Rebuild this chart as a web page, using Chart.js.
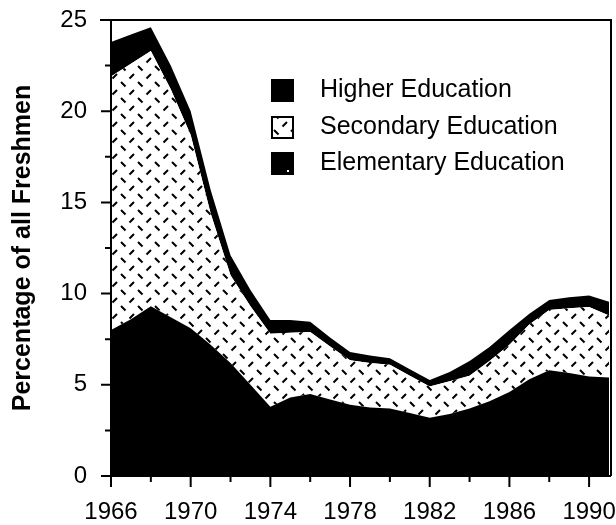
<!DOCTYPE html>
<html>
<head>
<meta charset="utf-8">
<script src="https://cdn.jsdelivr.net/npm/chart.js@4.4.1/dist/chart.umd.min.js"></script>
<style>
html, body { margin: 0; padding: 0; background: #fff; }
</style>
</head>
<body>
<canvas id="chart" width="616" height="525"></canvas>
<script>
// data (percent of all freshmen)
var years = [1966, 1967, 1968, 1969, 1970, 1971, 1972, 1973, 1974, 1975, 1976, 1977, 1978,
             1979, 1980, 1981, 1982, 1983, 1984, 1985, 1986, 1987, 1988, 1989, 1990, 1991];
var elementary = [8.0, 8.6, 9.3, 8.7, 8.1, 7.2, 6.2, 5.0, 3.8, 4.3, 4.5, 4.2, 3.9,
                  3.75, 3.7, 3.45, 3.2, 3.4, 3.7, 4.1, 4.6, 5.3, 5.8, 5.65, 5.45, 5.4];
var secondary = [13.9, 14.0, 14.0, 12.5, 10.6, 7.2, 4.8, 4.3, 4.0, 3.55, 3.4, 2.9, 2.45,
                 2.45, 2.4, 2.05, 1.7, 1.8, 1.8, 2.2, 2.6, 3.0, 3.3, 3.55, 3.82, 3.4];
var higher = [1.9, 1.6, 1.3, 1.3, 1.3, 1.3, 1.1, 0.9, 0.75, 0.7, 0.55, 0.5, 0.45,
              0.4, 0.35, 0.35, 0.36, 0.5, 0.8, 0.77, 0.8, 0.6, 0.55, 0.6, 0.63, 0.75];

var xTickYears = [1966, 1970, 1974, 1978, 1982, 1986, 1990];
var xMinorYears = [1968, 1972, 1976, 1980, 1984, 1988];
var yTicks = [0, 5, 10, 15, 20, 25];
var yMinorTicks = [2.5, 7.5, 12.5, 17.5, 22.5];

var FONT = "'Liberation Sans', Arial, Helvetica, sans-serif";

function points(vals) {
    return years.map(function(yr, i) { return {x: yr, y: vals[i]}; });
}

// dashed diamond-plate hatch for the secondary band
function makeHatch() {
    var c = document.createElement('canvas');
    c.width = 17; c.height = 16;
    var g = c.getContext('2d');
    g.fillStyle = '#fff';
    g.fillRect(0, 0, 17, 16);
    g.strokeStyle = '#000';
    g.lineWidth = 2;
    g.beginPath();
    g.moveTo(2, 2); g.lineTo(6.5, 6.5);
    g.moveTo(10.5, 14.5); g.lineTo(15, 10);
    g.stroke();
    return g.createPattern(c, 'repeat');
}
var hatch = makeHatch();

var frame = {
    id: 'frame',
    afterDatasetsDraw: function(chart) {
        var ctx = chart.ctx, a = chart.chartArea;
        var xs = chart.scales.x, ys = chart.scales.y;
        ctx.save();
        ctx.strokeStyle = '#000';
        ctx.lineWidth = 2;
        ctx.beginPath();
        ctx.moveTo(a.left, a.bottom); ctx.lineTo(a.left, a.top);
        ctx.moveTo(a.left - 11, a.top); ctx.lineTo(a.right, a.top);
        ctx.lineTo(a.right, a.bottom);
        ctx.moveTo(a.left, a.bottom); ctx.lineTo(a.right, a.bottom);
        yTicks.forEach(function(v) {
            var p = ys.getPixelForValue(v);
            ctx.moveTo(a.left - 10, p); ctx.lineTo(a.left, p);
        });
        yMinorTicks.forEach(function(v) {
            var p = ys.getPixelForValue(v);
            ctx.moveTo(a.left - 6, p); ctx.lineTo(a.left, p);
        });
        xTickYears.forEach(function(v) {
            var p = xs.getPixelForValue(v);
            ctx.moveTo(p, a.bottom); ctx.lineTo(p, a.bottom + 11);
        });
        xMinorYears.forEach(function(v) {
            var p = xs.getPixelForValue(v);
            ctx.moveTo(p, a.bottom); ctx.lineTo(p, a.bottom + 6);
        });
        ctx.stroke();
        ctx.restore();
    },
    afterDraw: function(chart) {
        // legend, top to bottom: Higher, Secondary, Elementary
        var ctx = chart.ctx;
        var order = [2, 1, 0];
        var rowY = [90, 127, 163];
        ctx.save();
        ctx.font = '25px ' + FONT;
        ctx.textBaseline = 'middle';
        order.forEach(function(di, i) {
            var ds = chart.data.datasets[di];
            var x = 271, y = rowY[i] - 11;
            ctx.fillStyle = ds.backgroundColor;
            ctx.fillRect(x, y, 23, 23);
            if (di === 1) {
                ctx.strokeStyle = '#000';
                ctx.lineWidth = 2;
                ctx.strokeRect(x + 1, y + 1, 21, 21);
            }
            if (di === 0) {
                ctx.fillStyle = '#fff';
                ctx.fillRect(x + 16, y + 18, 2, 2);
            }
            ctx.fillStyle = '#000';
            ctx.fillText(ds.label, 320, rowY[i]);
        });
        ctx.restore();
    }
};

new Chart(document.getElementById('chart'), {
    type: 'line',
    data: {
        datasets: [
            {label: 'Elementary Education', data: points(elementary), backgroundColor: '#000', fill: 'origin'},
            {label: 'Secondary Education', data: points(secondary), backgroundColor: hatch, fill: '-1'},
            {label: 'Higher Education', data: points(higher), backgroundColor: '#000', fill: '-1'}
        ]
    },
    options: {
        responsive: false,
        animation: false,
        layout: {padding: {top: 20, right: 5, left: 0, bottom: 0}},
        elements: {
            line: {borderWidth: 0, tension: 0},
            point: {radius: 0}
        },
        plugins: {
            legend: {display: false},
            tooltip: {enabled: false}
        },
        scales: {
            x: {
                type: 'linear',
                min: 1966,
                max: 1991.1,
                grid: {display: false, drawTicks: false},
                border: {display: false},
                afterBuildTicks: function(s) {
                    s.ticks = xTickYears.map(function(v) { return {value: v}; });
                },
                afterFit: function(s) {
                    s.height = 49;
                    s.paddingLeft = 0; s.paddingRight = 0;
                },
                ticks: {
                    color: '#000',
                    padding: 22,
                    maxRotation: 0,
                    font: {family: FONT, size: 24},
                    callback: function(v) { return String(v); }
                }
            },
            y: {
                stacked: true,
                min: 0,
                max: 25,
                grid: {display: false, drawTicks: false},
                border: {display: false},
                afterBuildTicks: function(s) {
                    s.ticks = yTicks.map(function(v) { return {value: v}; });
                },
                afterFit: function(s) {
                    s.width = 111;
                    s.paddingTop = 0; s.paddingBottom = 0;
                },
                ticks: {
                    color: '#000',
                    padding: 24,
                    font: {family: FONT, size: 24}
                },
                title: {
                    display: true,
                    text: 'Percentage of all Freshmen',
                    color: '#000',
                    padding: {top: 8, bottom: 0},
                    font: {family: FONT, size: 25, weight: 'bold'}
                }
            }
        }
    },
    plugins: [frame]
});
</script>
</body>
</html>
